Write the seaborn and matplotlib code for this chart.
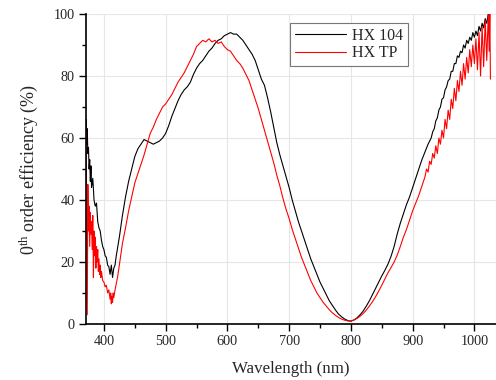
import numpy as np
import pandas as pd
import matplotlib
matplotlib.use("Agg")
import matplotlib.pyplot as plt
from matplotlib.ticker import MultipleLocator
import seaborn as sns

# ---- data ----
wl_104 = [370, 371, 372, 373, 374, 375, 376, 377, 378, 379, 380, 382, 384, 386, 388, 390,
          392, 394, 396, 398, 400, 402, 404, 406, 408, 410, 412, 414, 416, 418, 420, 425,
          430, 435, 440, 445, 450, 455, 460, 465, 470, 475, 480, 485, 490, 495, 500, 505,
          510, 515, 520, 525, 530, 535, 540, 545, 550, 555, 560, 565, 570, 575, 580, 585,
          590, 595, 600, 605, 610, 615, 620, 625, 630, 635, 640, 645, 650, 655, 660, 665,
          670, 675, 680, 685, 690, 695, 700, 705, 710, 715, 720, 725, 730, 735, 740, 745,
          750, 755, 760, 765, 770, 775, 780, 785, 790, 795, 800, 805, 810, 815, 820, 825,
          830, 835, 840, 845, 850, 855, 860, 865, 870, 875, 880, 885, 890, 895, 900, 905,
          910, 915, 920, 925, 927.5, 930, 932.5, 935, 937.5, 940, 942.5, 945, 947.5, 950,
          952.5, 955, 957.5, 960, 962.5, 965, 967.5, 970, 972.5, 975, 977.5, 980, 982.5,
          985, 987.5, 990, 992.5, 995, 997.5, 1000, 1002.5, 1005, 1007.5, 1010, 1012.5,
          1015, 1017.5, 1020, 1022.5, 1025]
eff_104 = [62, 66, 58, 63, 55, 57, 50, 53, 46, 51, 44, 47, 40, 38, 39, 33,
           31, 30, 27, 25, 24, 22, 21.5, 19, 18.5, 16, 19, 15, 18, 19, 22, 28,
           35, 41, 46, 50, 54, 56.5, 58, 59.5, 59, 58.5, 58, 58.5, 59, 60, 61.5, 64,
           67, 69.5, 72, 74, 75.5, 76.5, 78, 80.5, 82.5, 84, 85, 86.5, 88, 89, 90.5, 91.5,
           92, 93, 93.5, 94, 93.5, 93.5, 92.5, 91.5, 90, 88.5, 87, 85, 82, 79, 77, 73,
           68.5, 63.5, 58.5, 54.5, 51, 47.5, 44, 40, 36.5, 33, 30, 27, 24, 21, 18.5, 16,
           13.5, 11.5, 9.5, 7.5, 6, 4.5, 3.2, 2.3, 1.6, 1.1, 0.9, 1.3, 2, 3, 4.2, 5.8,
           7.5, 9.5, 11.5, 13.5, 15.5, 17.3, 19.3, 21.8, 25, 29, 32.5, 35.5, 38.5, 41, 44, 47,
           50, 53, 55.5, 58, 59, 60, 62, 63, 65.5, 66.5, 69, 70, 72.5, 73,
           75.5, 76.5, 78.5, 79, 81.5, 81.5, 84, 84, 86.5, 86, 88, 87.5, 90,
           89, 91.5, 90.5, 92.5, 91.5, 94, 92.5, 94.5, 93, 96, 94.5, 97,
           95.5, 98.5, 97, 100, 99]

wl_tp = [370, 371, 372, 373, 374, 375, 376, 377, 378, 379, 380, 381, 382, 383, 384, 385,
         386, 387, 388, 389, 390, 391, 392, 393, 394, 395, 396, 398, 400, 402, 404, 406,
         408, 410, 411, 412, 413, 414, 415, 416, 418, 420, 422, 425, 430, 435, 440, 445,
         450, 455, 460, 465, 470, 475, 480, 485, 490, 495, 500, 505, 510, 515, 520, 525,
         530, 535, 540, 545, 550, 555, 560, 565, 570, 575, 580, 585, 590, 595, 600, 605,
         610, 615, 620, 625, 630, 635, 640, 645, 650, 655, 660, 665, 670, 675, 680, 685,
         690, 695, 700, 705, 710, 715, 720, 725, 730, 735, 740, 745, 750, 755, 760, 765,
         770, 775, 780, 785, 790, 795, 800, 805, 810, 815, 820, 825, 830, 835, 840, 845,
         850, 855, 860, 865, 870, 875, 880, 885, 890, 895, 900, 905, 910, 915, 920, 922.5,
         925, 927.5, 930, 932.5, 935, 937.5, 940, 942.5, 945, 947.5, 950, 952.5, 955,
         957.5, 960, 962.5, 965, 967.5, 970, 972.5, 975, 977.5, 980, 982.5, 985, 987.5,
         990, 992.5, 995, 997.5, 1000, 1002.5, 1005, 1007.5, 1010, 1012.5, 1015, 1017.5,
         1020, 1022.5, 1024, 1025, 1026]
eff_tp = [58, 62, 40, 3, 45, 30, 38, 25, 36, 29, 33, 24, 35, 15, 30, 22,
          28, 18, 25, 20, 24, 17, 21, 16, 19, 15, 17, 14, 13.5, 12, 12.5, 10,
          11, 8, 10, 6.5, 9, 7, 10, 8.5, 11, 13, 15, 19, 26, 31, 36.5, 41,
          45.5, 48.5, 51.5, 54.5, 58, 61.5, 63.5, 66, 68, 70, 71, 72.5, 74, 76, 78, 79.5,
          81, 83, 85, 87, 89.5, 90.5, 91.5, 91, 92, 91, 91.5, 90.5, 91, 89.5, 88.5, 88,
          86.5, 85, 84, 82.5, 80.5, 78.5, 75.5, 72.5, 69.5, 66, 62.5, 59, 55.5, 52, 48, 44.5,
          40.5, 37, 34, 30.5, 27.5, 24.5, 21.5, 19, 16.5, 14, 12, 10, 8.5, 7, 5.8, 4.6,
          3.6, 2.8, 2.1, 1.6, 1.2, 1, 1, 1.3, 1.8, 2.5, 3.4, 4.5, 5.8, 7.2, 8.8, 10.6,
          12.5, 14.5, 16.5, 18.2, 20, 22.2, 25, 28, 30.5, 33.5, 36.5, 39, 41.5, 44.5, 47.5, 50,
          49, 52.5, 51.5, 55, 53.5, 57.5, 55, 60, 58, 62.5, 60, 66, 63,
          69, 66, 72.5, 69.5, 76, 72, 78.5, 75, 81.5, 77, 84, 79, 86,
          81, 88.5, 83, 90, 84, 92, 82, 94, 80, 96, 83, 98,
          85, 100, 88, 100, 79]

series_names = ["HX 104", "HX TP"]
x_ticks = [400, 500, 600, 700, 800, 900, 1000]
y_ticks = [0, 20, 40, 60, 80, 100]

df = pd.concat([
    pd.DataFrame({"Wavelength": wl_104, "Efficiency": eff_104, "Sample": series_names[0]}),
    pd.DataFrame({"Wavelength": wl_tp, "Efficiency": eff_tp, "Sample": series_names[1]}),
], ignore_index=True)

# ---- style ----
sns.set_style("white")
plt.rcParams["font.family"] = ["Liberation Serif", "DejaVu Serif"]
plt.rcParams["mathtext.fontset"] = "custom"
plt.rcParams["mathtext.rm"] = "Liberation Serif"
plt.rcParams["mathtext.it"] = "Liberation Serif:italic"

fig = plt.figure(figsize=(4.96, 3.80), dpi=100)
ax = fig.add_axes([0.1734, 0.1474, 0.8266, 0.8158])

sns.lineplot(data=df, x="Wavelength", y="Efficiency", hue="Sample",
             palette={"HX 104": "black", "HX TP": "red"},
             estimator=None, sort=False, linewidth=0.8, ax=ax)

ax.set_xlim(371, 1035)
ax.set_ylim(0, 100)
ax.set_xticks(x_ticks)
ax.set_yticks(y_ticks)
ax.xaxis.set_minor_locator(MultipleLocator(50))
ax.yaxis.set_minor_locator(MultipleLocator(10))
ax.tick_params(axis="both", which="major", direction="out", length=5, width=1.0,
               labelsize=10.3, color="black", pad=3)
ax.tick_params(axis="both", which="minor", direction="out", length=3, width=1.0,
               color="black")
ax.tick_params(left=True, bottom=True, which="both")
ax.grid(True, which="major", color="#e6e6e6", linewidth=0.8)

for s in ["top", "right"]:
    ax.spines[s].set_visible(False)
for s in ["left", "bottom"]:
    ax.spines[s].set_color("black")
    ax.spines[s].set_linewidth(1.2)

ax.set_xlabel("Wavelength (nm)", fontsize=12.2, labelpad=9)
ax.set_ylabel(r"0$^{\mathrm{th}}$ order efficiency (%)", fontsize=13, labelpad=10)

leg = ax.legend(loc="upper left", bbox_to_anchor=(0.478, 0.997), fontsize=11.5,
                frameon=True, fancybox=False, edgecolor="#777777", framealpha=1,
                handlelength=3.2, borderpad=0.3, labelspacing=0.1, handletextpad=0.4)
leg.get_frame().set_linewidth(0.8)
for line in leg.get_lines():
    line.set_linewidth(0.8)

fig.savefig("out.png", dpi=100)
